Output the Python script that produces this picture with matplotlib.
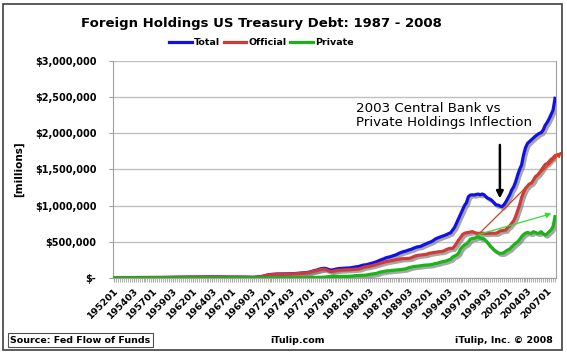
import numpy as np
import matplotlib
matplotlib.use("Agg")
import matplotlib.pyplot as plt
from matplotlib import patheffects as pe
from matplotlib.patches import Rectangle
from matplotlib.lines import Line2D
from matplotlib.ticker import FuncFormatter

# Quarterly data 1952Q1 .. 2008Q1, values in $ billions (plotted as $ millions)
total_bn = [
    5, 5, 5, 5,   5, 5, 6, 6,   6, 6, 6, 7,   7, 7, 7, 7,   7, 8, 8, 8,      # 1952-56
    8, 8, 8, 8,   8, 8, 9, 9,   9, 10, 10, 11, 11, 11, 12, 12, 12, 12, 13, 13,  # 1957-61
    13, 13, 13, 14, 14, 14, 14, 15, 15, 15, 15, 15, 15, 14, 14, 14, 14, 13, 13, 13,  # 1962-66
    13, 13, 14, 14, 13, 12, 12, 12, 11, 10, 10, 10,                          # 1967-69
    12, 15, 18, 21, 28, 36, 42, 46, 50, 52, 54, 55, 55, 56, 56, 56,        # 1970-73
    57, 58, 58, 59, 62, 64, 66, 68, 70, 73, 76, 80, 88, 96, 104, 110,      # 1974-77
    120, 128, 132, 134, 128, 118, 110, 112, 118, 125, 130, 132,            # 1978-80
    134, 136, 137, 138, 140, 145, 150, 155, 158, 165, 175, 180,            # 1981-83
    182, 190, 198, 205, 212, 222, 232, 245, 255, 265, 278, 286,            # 1984-86
    292, 300, 310, 318, 330, 345, 355, 365, 370, 380, 390, 397,            # 1987-89
    410, 420, 430, 433, 440, 455, 465, 479, 490, 500, 515, 535,            # 1990-92
    550, 560, 571, 580, 590, 600, 615, 625, 664, 700, 760, 820,            # 1993-95
    880, 940, 1000, 1040, 1124, 1147, 1150, 1147, 1155, 1160, 1150, 1161,  # 1996-98
    1150, 1120, 1100, 1090, 1070, 1040, 1010, 1009, 995, 986, 1010, 1050,  # 1999-01
    1100, 1150, 1217, 1260, 1330, 1420, 1500, 1560, 1700, 1800, 1860, 1885,  # 2002-04
    1910, 1935, 1960, 1980, 2000, 2010, 2046, 2110, 2150, 2200, 2260, 2320,  # 2005-07
    2484,                                                                  # 2008
]
official_bn = [
    4, 4, 4, 4,   4, 4, 5, 5,   5, 5, 5, 5,   5, 5, 5, 5,   5, 6, 6, 6,
    6, 6, 6, 6,   6, 6, 7, 7,   7, 8, 8, 9,   9, 9, 10, 10, 10, 10, 11, 11,
    11, 11, 11, 12, 12, 12, 12, 13, 13, 13, 13, 13, 13, 12, 12, 12, 12, 11, 11, 11,
    11, 11, 12, 12, 11, 10, 10, 10, 9, 8, 8, 8,
    10, 13, 16, 19, 26, 33, 39, 43, 47, 49, 51, 52, 52, 53, 53, 53,
    54, 55, 55, 56, 58, 60, 62, 64, 66, 69, 72, 75, 83, 90, 97, 102,
    111, 118, 121, 122, 112, 100, 90, 92, 98, 104, 108, 110,
    112, 113, 114, 115, 116, 118, 120, 122, 124, 130, 140, 150,
    155, 160, 165, 170, 178, 185, 195, 203, 210, 218, 225, 230,
    235, 239, 245, 249, 255, 260, 265, 268, 268, 270, 272, 280,
    292, 305, 310, 315, 318, 320, 325, 330, 341, 345, 350, 355,
    358, 364, 364, 370, 380, 395, 405, 410, 410, 440, 480, 525,
    560, 600, 618, 625, 630, 635, 641, 630, 620, 618, 618, 620,
    618, 615, 618, 618, 620, 618, 620, 630, 650, 654, 660, 664,
    700, 720, 756, 790, 850, 930, 1010, 1110, 1180, 1240, 1270, 1300,
    1310, 1350, 1400, 1420, 1450, 1490, 1530, 1570, 1580, 1610, 1640, 1660,
    1690,
]
private_bn = [
    1, 1, 1, 1,   1, 1, 1, 1,   1, 1, 1, 2,   2, 2, 2, 2,   2, 2, 2, 2,
    2, 2, 2, 2,   2, 2, 2, 2,   2, 2, 2, 2,   2, 2, 2, 2,   2, 2, 2, 2,
    2, 2, 2, 2,   2, 2, 2, 2,   2, 2, 2, 2,   2, 2, 2, 2,   2, 2, 2, 2,
    2, 2, 2, 2,   2, 2, 2, 2,   2, 2, 2, 2,
    2, 2, 2, 2,   2, 3, 3, 3,   3, 3, 3, 3,   3, 3, 3, 3,
    3, 3, 3, 3,   4, 4, 4, 4,   4, 4, 4, 5,   5, 6, 7, 8,
    9, 10, 11, 12, 16, 18, 20, 20, 20, 21, 22, 22,
    22, 23, 23, 23, 24, 27, 30, 33, 34, 35, 37, 38,
    40, 45, 50, 55, 58, 62, 70, 80, 85, 90, 95, 100,
    100, 105, 108, 110, 112, 115, 118, 120, 125, 135, 145, 150,
    157, 160, 162, 165, 170, 175, 178, 180, 180, 185, 190, 200,
    203, 210, 220, 226, 230, 240, 249, 260, 290, 304, 318, 341,
    400, 433, 456, 470, 500, 535, 549, 549, 560, 571, 549, 549,
    540, 510, 479, 440, 420, 387, 370, 350, 341, 341, 350, 370,
    387, 400, 430, 456, 480, 500, 530, 570, 600, 618, 630, 620,
    618, 640, 630, 618, 620, 640, 610, 594, 610, 640, 664, 710,
    848,
]

start_year = 1952
n = len(total_bn)
quarters = [f"{start_year + i // 4}{(i % 4) + 1:02d}" for i in range(n)]
tick_every = 10

total = np.array(total_bn) * 1000
official = np.array(official_bn) * 1000
private = np.array(private_bn) * 1000
x = np.arange(n)

# annotation arrows (category index, value in millions)
red_arrow = ((185, 600000), (227.5, 1745000))
green_arrow = ((185, 600000), (222.2, 890000))
black_arrow = ((196, 1840000), (196, 1100000))

fig = plt.figure(figsize=(5.67, 3.55), dpi=100)
ax = fig.add_axes([0.1993, 0.2169, 0.7813, 0.6113])

grey = "#a0a0a0"
colors = {"Total": "#1010e8", "Official": "#d03a3a", "Private": "#18b418"}
shadow = [pe.SimpleLineShadow(offset=(1.5, -1.5), shadow_color="#808080", alpha=0.7), pe.Normal()]
ax.plot(x, total, color=colors["Total"], lw=2.3, path_effects=shadow, zorder=3)
ax.plot(x, official, color=colors["Official"], lw=2.3, path_effects=shadow, zorder=4)
ax.plot(x, private, color=colors["Private"], lw=2.3, path_effects=shadow, zorder=5)

ax.set_xlim(-0.5, n - 0.5)
ax.set_ylim(0, 3000000)
ax.set_yticks(np.arange(0, 3000001, 500000))
ax.yaxis.set_major_formatter(FuncFormatter(lambda v, p: "$-" if v == 0 else f"${v:,.0f}"))
ax.grid(axis="y", color="#c0c0c0", lw=1)
ax.set_axisbelow(True)
for s in ["left", "bottom", "right"]:
    ax.spines[s].set_color(grey)
ax.spines["top"].set_visible(False)

ax.set_xticks(x[::tick_every])
ax.set_xticklabels(quarters[::tick_every], rotation=45, ha="right", va="top",
                   rotation_mode="anchor", fontsize=6.8, fontweight="bold")
ax.set_xticks(x, minor=True)
ax.tick_params(axis="x", which="both", length=3, color=grey, pad=3)
ax.tick_params(axis="y", length=3, color=grey, labelsize=7, pad=9)
for t in ax.get_yticklabels():
    t.set_fontweight("bold")
ax.set_ylabel("[millions]", fontsize=7.5, fontweight="bold", labelpad=8)

ax.annotate("", xy=red_arrow[1], xytext=red_arrow[0], annotation_clip=False,
            arrowprops=dict(arrowstyle="-|>", color="#e03a10", lw=0.9, mutation_scale=8,
                            shrinkA=0, shrinkB=0), zorder=6)
ax.annotate("", xy=green_arrow[1], xytext=green_arrow[0], annotation_clip=False,
            arrowprops=dict(arrowstyle="-|>", color="#30e030", lw=0.9, mutation_scale=8,
                            shrinkA=0, shrinkB=0), zorder=6)
ax.annotate("", xy=black_arrow[1], xytext=black_arrow[0],
            arrowprops=dict(arrowstyle="-|>", color="black", lw=1.8, mutation_scale=10,
                            shrinkA=0, shrinkB=0), zorder=6)
ax.text(0.548, 0.81, "2003 Central Bank vs\nPrivate Holdings Inflection", transform=ax.transAxes,
        fontsize=9.6, va="top", ha="left", linespacing=1.1, zorder=7)

fig.text(0.461, 0.935, "Foreign Holdings US Treasury Debt: 1987 - 2008", ha="center", va="center",
         fontsize=9.5, fontweight="bold")
handles = [Line2D([], [], color=colors[k], lw=2.3) for k in ["Total", "Official", "Private"]]
fig.legend(handles=handles, labels=["Total", "Official", "Private"], loc="center",
           bbox_to_anchor=(0.461, 0.88), ncol=3, frameon=False,
           prop={"weight": "bold", "size": 6.8}, handlelength=2.4, handletextpad=0.2,
           columnspacing=0.4, borderaxespad=0)

fig.text(0.018, 0.042, "Source: Fed Flow of Funds", fontsize=6.8, fontweight="bold", va="center",
         ha="left", bbox=dict(boxstyle="square,pad=0.25", fc="white", ec="#505050", lw=0.8))
fig.text(0.525, 0.042, "iTulip.com", fontsize=6.8, fontweight="bold", va="center", ha="center")
fig.text(0.975, 0.042, "iTulip, Inc. \u00a9 2008", fontsize=6.8, fontweight="bold", va="center", ha="right")

fig.patches.append(Rectangle((0.006, 0.015), 0.986, 0.975, transform=fig.transFigure,
                             fill=False, ec="#404040", lw=1.2))

fig.savefig("out.png", dpi=100)
